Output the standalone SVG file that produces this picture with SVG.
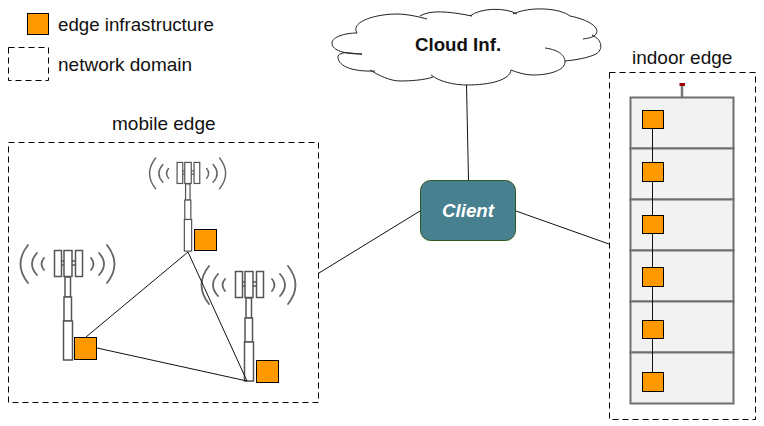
<svg xmlns="http://www.w3.org/2000/svg" xmlns:xlink="http://www.w3.org/1999/xlink" width="764" height="426" viewBox="0 0 764 426">
<style>
text{font-family:"Liberation Sans",Arial,sans-serif;font-size:18.7px;fill:#111}
.big{font-size:19px}
.dom{fill:none;stroke:#000;stroke-width:1;stroke-dasharray:6 4}
.edge{fill:#ff9900;stroke:#000;stroke-width:1}
.conn{fill:none;stroke:#111;stroke-width:1}
.part{fill:#fff;stroke:#555;stroke-width:1.5}
.wave{fill:none;stroke:#666;stroke-width:1.8;stroke-linecap:round}
.floor{fill:#f2f2f2;stroke:#707070;stroke-width:2}
</style>
<defs>
<g id="tower">
<path class="wave" d="M-40-5Q-55 14-40 33M-31 3Q-41 14-31 25M-24 8Q-29 14-24 20M39-5Q54 14 39 33M31 3Q41 14 31 25M23 8Q28 14 23 20"/>
<rect class="part" x="-7" y="11" width="15" height="4"/>
<rect class="part" x="-13.500" y="0.500" width="7" height="26"/>
<rect class="part" x="7.500" y="0.500" width="7" height="26"/>
<rect class="part" x="-3" y="27" width="5.500" height="20"/>
<rect class="part" x="-4" y="47" width="7.500" height="24"/>
<rect class="part" x="-4" y="0.500" width="8" height="26"/>
<rect class="part" x="-4.500" y="71" width="9" height="39"/>
</g>
</defs>
<g id="legend">
<rect class="edge" x="27.500" y="13.500" width="21" height="21"/>
<text x="58" y="31">edge infrastructure</text>
<rect class="dom" x="8.500" y="47.500" width="40" height="33"/>
<text class="big" x="58" y="71">network domain</text>
</g>
<g id="mobile-edge">
<rect class="dom" x="8.500" y="142.500" width="310" height="260"/>
<text class="big" x="112" y="130">mobile edge</text>
</g>
<g id="tower-top"><use xlink:href="#tower" href="#tower" transform="translate(188 162) scale(.81)"/><rect class="edge" x="194.500" y="229.500" width="22" height="21"/></g>
<g id="tower-left"><use xlink:href="#tower" href="#tower" transform="translate(68 250)"/><rect class="edge" x="74.500" y="337.500" width="22" height="22"/></g>
<g id="tower-right"><use xlink:href="#tower" href="#tower" transform="translate(249 271)"/><rect class="edge" x="256.500" y="360.500" width="22" height="22"/></g>
<g id="connectors">
<path class="conn" d="M466.500 85L468.500 180M420 211L319 273M516 211L609 244"/>
<path class="conn" d="M188 252L86 337M188 252L247 381M97 348L247 381"/>
</g>
<g id="cloud">
<path d="M362 54C340 54 332 49 332 43C332 37 345 33 357 33C350 22 375 14 397 14C407 14 420 16 420 16C430 10 447 11 470 16C480 8 505 7 513 14C530 6 560 8 570 16C590 20 600 28 596 34C594 37 592 38 592 35C603 40 603 50 596 54C588 58 575 60 565 61C565 70 550 75 533 75C525 75 516 72 511 70C510 80 490 85 467 85C455 85 440 82 431 75C425 80 410 81 400 81C390 81 378 75 370 70C350 72 337 65 338 56C342 50 352 54 362 54Z" fill="#fff" stroke="none"/>
<path d="M362 54C340 54 332 49 332 43C332 37 345 33 357 33C350 22 375 14 397 14C407 14 420 17 427 19M420 16C430 10 447 11 472 16M470 16C480 8 505 7 517 14M513 14C530 6 560 8 570 16C590 20 600 28 596 34C594 37 590 38 583 39M592 35C603 40 603 50 596 54C588 58 575 60 565 61M545 48C560 50 565 56 565 62C565 70 550 75 533 75C525 75 516 72 511 70M511 70C510 80 490 85 467 85C455 85 440 82 431 75M433 77C425 80 410 81 400 81C390 81 378 75 370 70M375 71C350 72 337 65 338 56C342 50 352 54 362 54" fill="none" stroke="#222" stroke-width="1"/>
<text x="415" y="51" style="font-weight:700">Cloud Inf.</text>
</g>
<g id="client">
<rect x="420.500" y="180.500" width="95" height="60" rx="10" fill="#47808f" stroke="#2d5a1e" stroke-width="1"/>
<text x="442" y="217" style="fill:#fff;font-style:italic;font-weight:700">Client</text>
</g>
<g id="indoor-edge">
<rect class="dom" x="609.500" y="72.500" width="146" height="347"/>
<text class="big" x="632" y="64">indoor edge</text>
<path d="M682 85V97" stroke="#777" stroke-width="2.500" fill="none"/>
<rect x="679.500" y="83" width="5.500" height="3" fill="#a00000"/>
<rect class="floor" x="630.500" y="97.500" width="103" height="51"/>
<rect class="floor" x="630.500" y="148.500" width="103" height="51"/>
<rect class="floor" x="630.500" y="199.500" width="103" height="51"/>
<rect class="floor" x="630.500" y="250.500" width="103" height="51"/>
<rect class="floor" x="630.500" y="301.500" width="103" height="51"/>
<rect class="floor" x="630.500" y="352.500" width="103" height="51"/>
<path class="conn" d="M652.500 128V372"/>
<rect class="edge" x="642.500" y="110.500" width="21" height="18"/>
<rect class="edge" x="642.500" y="162.500" width="21" height="19"/>
<rect class="edge" x="642.500" y="215.500" width="21" height="18"/>
<rect class="edge" x="642.500" y="267.500" width="21" height="19"/>
<rect class="edge" x="642.500" y="320.500" width="21" height="18"/>
<rect class="edge" x="642.500" y="372.500" width="21" height="19"/>
</g>
</svg>
